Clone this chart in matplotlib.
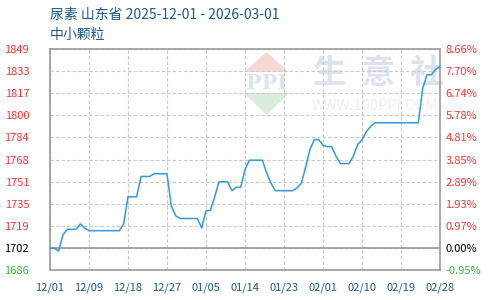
import numpy as np
import matplotlib
matplotlib.use('Agg')
import matplotlib.pyplot as plt
from matplotlib.patches import Polygon

plt.rcParams['font.family'] = ['Noto Sans CJK SC', 'DejaVu Sans']

# price per day, 2025-12-01 .. 2026-03-01
prices = [1702, 1702, 1700, 1712, 1716, 1716, 1716, 1720, 1717, 1715,
          1715, 1715, 1715, 1715, 1715, 1715, 1715, 1720, 1740, 1740,
          1740, 1755, 1755, 1755, 1757, 1757, 1757, 1757, 1733, 1726,
          1724, 1724, 1724, 1724, 1724, 1717, 1729.6, 1730, 1740, 1751,
          1751, 1751, 1744.5, 1747, 1747, 1760, 1767, 1767, 1767, 1767,
          1757.6, 1750, 1744.5, 1744.5, 1744.5, 1744.5, 1744.5, 1746.5, 1750, 1762,
          1775, 1782.2, 1782.2, 1778, 1777, 1777, 1770, 1764.5, 1764.5, 1764.5,
          1770, 1778.5, 1782, 1788, 1792, 1794.6, 1794.6, 1794.6, 1794.6, 1794.6,
          1794.6, 1794.6, 1794.6, 1794.6, 1794.6, 1794.6, 1820, 1830, 1830, 1834,
          1836]

x_labels = ['12/01', '12/09', '12/18', '12/27', '01/05', '01/14',
            '01/23', '02/01', '02/10', '02/19', '02/28']
left_labels = ['1686', '1702', '1719', '1735', '1751', '1768',
               '1784', '1800', '1817', '1833', '1849']
right_labels = ['-0.95%', '0.00%', '0.97%', '1.93%', '2.89%', '3.85%',
                '4.81%', '5.78%', '6.74%', '7.70%', '8.66%']

title = '尿素 山东省 2025-12-01 - 2026-03-01'
subtitle = '中小颗粒'

ymin, ymax = 1686, 1849

fig = plt.figure(figsize=(4.9, 3.0), dpi=100)
ax = fig.add_axes([50/490, 30/300, 390/490, 221/300])

# watermark
wm = fig.add_axes([0, 0, 1, 1], zorder=0)
wm.set_xlim(0, 490)
wm.set_ylim(300, 0)
wm.axis('off')
wm.add_patch(Polygon([[244, 72], [289, 72], [266.5, 52]], closed=True,
                     fc='#f8d8d4', ec='none'))
wm.add_patch(Polygon([[244, 93], [289, 93], [266.5, 115]], closed=True,
                     fc='#d8eedb', ec='none'))
wm.text(266.5, 83, 'PPI', ha='center', va='center', fontsize=15,
        fontweight='bold', color='#dde2ee', family='DejaVu Serif')
wm.text(378, 73, '生  意  社', ha='center', va='center', fontsize=24,
        fontweight='bold', color='#dde2ee')
wm.text(375, 106, 'WWW.100PPI.COM', ha='center', va='center', fontsize=10.5,
        color='#eeeeee')
ax.set_zorder(1)
ax.patch.set_alpha(0)

x = np.arange(len(prices))
ax.plot(x, prices, color='#3399dd', lw=1.1, zorder=3)

ax.set_xlim(0, len(prices) - 1)
ax.set_ylim(ymin, ymax)
yt = np.linspace(ymin, ymax, len(left_labels))
ax.set_yticks(yt)
ax.set_yticklabels(left_labels)
xt = np.linspace(0, len(prices) - 1, len(x_labels))
ax.set_xticks(xt)
ax.set_xticklabels(x_labels)

ax.grid(True, ls=(0, (3, 2)), color='#c8c8c8', lw=0.8)
ax.axhline(yt[1], color='#999999', lw=1.2, zorder=2)
for s in ax.spines.values():
    s.set_color('#999999')
    s.set_linewidth(1.2)

ax.tick_params(length=0, labelsize=8)
ax.tick_params(axis='x', pad=9, colors='#1a5a8a')
ax.tick_params(axis='y', pad=15)

ax2 = ax.twinx()
ax2.set_ylim(ymin, ymax)
ax2.set_yticks(yt)
ax2.set_yticklabels(right_labels)
ax2.tick_params(length=0, labelsize=8, pad=4)
for s in ax2.spines.values():
    s.set_visible(False)


def col(i):
    if i == 0:
        return '#33bb33'
    if i == 1:
        return 'black'
    return '#ff3333'


for i, t in enumerate(ax.get_yticklabels()):
    t.set_color(col(i))
for i, t in enumerate(ax2.get_yticklabels()):
    t.set_color(col(i))

fig.text(50/490, 1 - 15/300, title, fontsize=10, color='#1a5a8a',
         va='center', ha='left')
fig.text(50/490, 1 - 35/300, subtitle, fontsize=10, color='#1a5a8a',
         va='center', ha='left')

fig.savefig('out.png', dpi=100)
